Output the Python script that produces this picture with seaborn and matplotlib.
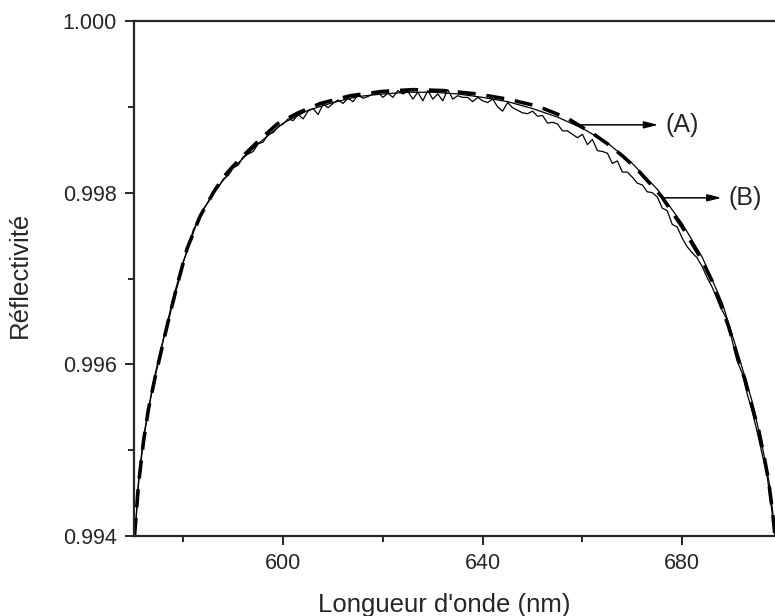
import pandas as pd
import seaborn as sns
import matplotlib.pyplot as plt
from matplotlib.ticker import MultipleLocator, FormatStrFormatter

sns.set_style('ticks')
plt.rcParams['font.family'] = ['Liberation Sans', 'DejaVu Sans']

# (A) courbe lisse tiretee
wl_a = [570.2, 571, 572, 573, 574.3, 576.7, 578.7, 580.7, 583.3, 586, 588, 590,
        592, 595, 598.8, 603, 607.5, 613.5, 620, 626, 632, 638.9, 644.9, 650.9,
        656.9, 660, 662.3, 665, 668, 671, 675.8, 680, 683.9, 686, 689.3, 691,
        692.6, 694, 695.3, 696.5, 697.3, 698.1, 698.6]
ref_a = [0.99400, 0.99460, 0.99510, 0.99548, 0.99584, 0.99644, 0.99691, 0.99734,
         0.99772, 0.99800, 0.99818, 0.99831, 0.99843, 0.99860, 0.99880, 0.99893,
         0.99904, 0.99913, 0.99918, 0.99920, 0.99919, 0.99915, 0.99909, 0.99901,
         0.99887, 0.99876, 0.99868, 0.99857, 0.99843, 0.99827, 0.99796, 0.99760,
         0.99722, 0.99697, 0.99644, 0.99610, 0.99582, 0.99551, 0.99524, 0.99490,
         0.99465, 0.99428, 0.99400]

# courbe lisse fine
wl_c = [570.3, 571, 572, 574, 576, 578, 580, 583, 586, 590, 595, 600, 605, 610,
        615, 620, 625, 630, 635, 640, 645, 650, 655, 660, 665, 670, 675, 680,
        684, 688, 691, 694, 696, 697.5, 698.6]
ref_c = [0.99400, 0.99465, 0.99515, 0.99580, 0.99630, 0.99678, 0.99720, 0.99770,
         0.99800, 0.99829, 0.99857, 0.99881, 0.99896, 0.99905, 0.99912, 0.99915,
         0.99917, 0.99917, 0.99915, 0.99911, 0.99906, 0.99898, 0.99888, 0.99875,
         0.99858, 0.99834, 0.99804, 0.99764, 0.99725, 0.99672, 0.99616, 0.99557,
         0.99506, 0.99460, 0.99405]

# (B) mesure (bruitee)
wl_b = [570.3,
        571, 572, 573, 574, 575, 576, 577, 578, 579, 580,
        581, 582, 583, 584, 585, 586, 587, 588, 589, 590,
        591, 592, 593, 594, 595, 596, 597, 598, 599, 600,
        601, 602, 603, 604, 605, 606, 607, 608, 609, 610,
        611, 612, 613, 614, 615, 616, 617, 618, 619, 620,
        621, 622, 623, 624, 625, 626, 627, 628, 629, 630,
        631, 632, 633, 634, 635, 636, 637, 638, 639, 640,
        641, 642, 643, 644, 645, 646, 647, 648, 649, 650,
        651, 652, 653, 654, 655, 656, 657, 658, 659, 660,
        661, 662, 663, 664, 665, 666, 667, 668, 669, 670,
        671, 672, 673, 674, 675, 676, 677, 678, 679, 680,
        681, 682, 683, 684, 685, 686, 687, 688, 689, 690,
        691, 692, 693, 694, 695, 696, 697, 698, 698.6]
ref_b = [0.99400,
         0.99460, 0.99512, 0.99547, 0.99577, 0.99602, 0.99629, 0.99650, 0.99675, 0.99695, 0.99719,
         0.99737, 0.99757, 0.99767, 0.99781, 0.99789, 0.99801, 0.99806, 0.99816, 0.99820, 0.99829,
         0.99832, 0.99842, 0.99845, 0.99848, 0.99857, 0.99859, 0.99868, 0.99870, 0.99877, 0.99880,
         0.99886, 0.99884, 0.99891, 0.99886, 0.99895, 0.99898, 0.99891, 0.99903, 0.99899, 0.99904,
         0.99908, 0.99904, 0.99910, 0.99906, 0.99914, 0.99910, 0.99912, 0.99915, 0.99917, 0.99911,
         0.99916, 0.99911, 0.99919, 0.99915, 0.99918, 0.99909, 0.99917, 0.99907, 0.99919, 0.99909,
         0.99915, 0.99907, 0.99920, 0.99909, 0.99913, 0.99911, 0.99911, 0.99906, 0.99911, 0.99907,
         0.99905, 0.99909, 0.99900, 0.99895, 0.99905, 0.99899, 0.99896, 0.99893, 0.99892, 0.99895,
         0.99889, 0.99890, 0.99881, 0.99882, 0.99880, 0.99872, 0.99872, 0.99868, 0.99864, 0.99868,
         0.99856, 0.99862, 0.99849, 0.99848, 0.99846, 0.99834, 0.99837, 0.99824, 0.99824, 0.99818,
         0.99811, 0.99809, 0.99801, 0.99800, 0.99795, 0.99782, 0.99779, 0.99763, 0.99760, 0.99747,
         0.99737, 0.99730, 0.99724, 0.99714, 0.99701, 0.99690, 0.99676, 0.99663, 0.99652, 0.99628,
         0.99604, 0.99590, 0.99566, 0.99546, 0.99522, 0.99496, 0.99471, 0.99428, 0.99400]

df_a = pd.DataFrame({'wl': wl_a, 'R': ref_a})
df_b = pd.DataFrame({'wl': wl_b, 'R': ref_b})
df_c = pd.DataFrame({'wl': wl_c, 'R': ref_c})

fig = plt.figure(figsize=(7.75, 6.16), dpi=100)
ax = fig.add_axes([133.5/775, 80/616, (775-133.5)/775, 515/616])

sns.lineplot(data=df_c, x='wl', y='R', ax=ax, color='black', lw=0.9, estimator=None)
sns.lineplot(data=df_b, x='wl', y='R', ax=ax, color='black', lw=0.9, estimator=None)
sns.lineplot(data=df_a, x='wl', y='R', ax=ax, color='black', lw=2.6,
             linestyle=(0, (5, 3)), estimator=None)

ax.set_xlim(570, 698.6)
ax.set_ylim(0.994, 1.000)

ax.xaxis.set_major_locator(MultipleLocator(40))
ax.xaxis.set_minor_locator(MultipleLocator(20))
ax.yaxis.set_major_locator(MultipleLocator(0.002))
ax.yaxis.set_minor_locator(MultipleLocator(0.001))
ax.yaxis.set_major_formatter(FormatStrFormatter('%.3f'))

ax.tick_params(which='major', length=6.5, width=1.4, direction='out', labelsize=15.5, pad=5.5)
ax.tick_params(which='minor', length=4, width=1.4, direction='out')
ax.tick_params(top=False, right=False, which='both')

for s in ['left', 'bottom', 'top']:
    ax.spines[s].set_linewidth(1.6)
ax.spines['right'].set_visible(False)

ax.set_xlabel("Longueur d'onde (nm)", fontsize=18.5)
ax.set_ylabel('Réflectivité', fontsize=18.5)
ax.xaxis.set_label_coords(0.485, -0.11)
ax.yaxis.set_label_coords(-0.158, 0.507)

arrow = dict(arrowstyle='-|>,head_length=0.6,head_width=0.15', color='black',
             lw=1.1, mutation_scale=14, shrinkA=0, shrinkB=0)
ax.annotate('', xy=(675.2, 0.99879), xytext=(659.5, 0.99879), arrowprops=arrow)
ax.text(676.6, 0.99879, '(A)', ha='left', va='center', fontsize=18)
ax.annotate('', xy=(687.9, 0.99794), xytext=(676.2, 0.99794), arrowprops=arrow)
ax.text(689.2, 0.99794, '(B)', ha='left', va='center', fontsize=18)

fig.savefig('out.png', dpi=100)
